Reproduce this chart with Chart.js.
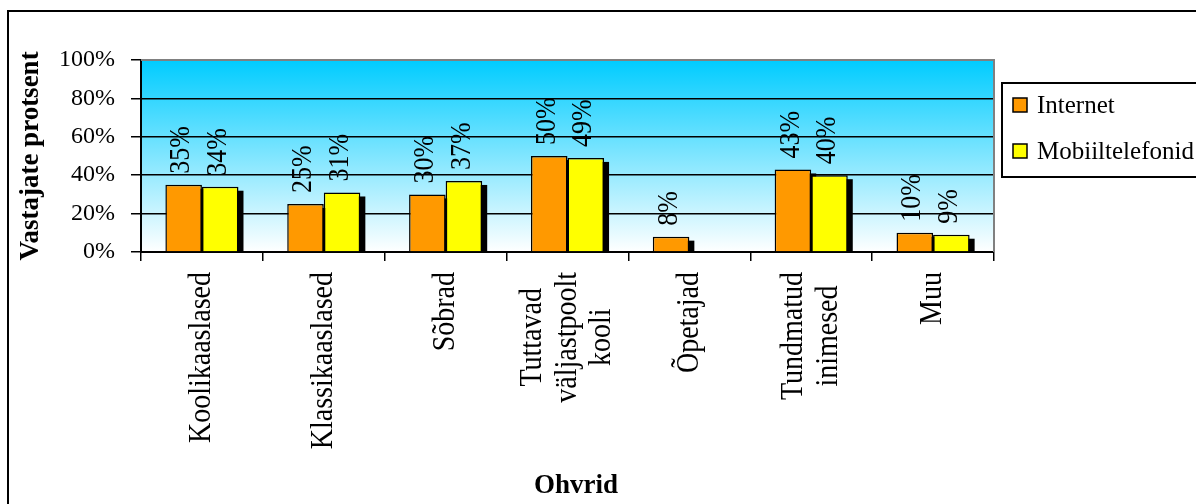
<!DOCTYPE html>
<html><head><meta charset="utf-8">
<script src="https://cdn.jsdelivr.net/npm/chart.js@4"></script>
<style>html,body{margin:0;padding:0;background:#fff;overflow:hidden}</style>
</head><body>
<canvas id="c" width="1196" height="504" style="display:block;width:1196px;height:504px"></canvas>
<script>
const categories = ['Koolikaaslased', 'Klassikaaslased', 'Sõbrad', ['Tuttavad', 'väljastpoolt', 'kooli'], 'Õpetajad', ['Tundmatud', 'inimesed'], 'Muu'];
const seriesNames = ['Internet', 'Mobiiltelefonid'];
const internetValues = [35, 25, 30, 50, 8, 43, 10];
const mobileValues = [34, 31, 37, 49, null, 40, 9];
const yTickValues = [0, 20, 40, 60, 80, 100];
const yTitle = 'Vastajate protsent';
const xTitle = 'Ohvrid';

const FONT = "'Liberation Serif', 'Times New Roman', serif";
const colors = ['#FF9900', '#FFFF00'];
const SX = 1.12;

const framePlugin = {
  id: 'frame',
  beforeDraw(chart) {
    const {ctx, chartArea: a} = chart;
    ctx.save();
    const g = ctx.createLinearGradient(0, a.top, 0, a.bottom);
    g.addColorStop(0, '#00CCFF');
    g.addColorStop(1, '#FFFFFF');
    ctx.fillStyle = g;
    ctx.fillRect(a.left, a.top, a.right - a.left, a.bottom - a.top);
    ctx.restore();
  },
  beforeDatasetsDraw(chart) {
    const {ctx, chartArea: a} = chart;
    ctx.save();
    ctx.beginPath();
    ctx.rect(a.left, a.top, a.right - a.left, a.bottom - a.top);
    ctx.clip();
    ctx.fillStyle = '#000';
    chart.data.datasets.forEach((ds, di) => {
      chart.getDatasetMeta(di).data.forEach((bar, i) => {
        if (ds.data[i] == null) return;
        const p = bar.getProps(['x', 'y', 'base', 'width'], true);
        ctx.fillRect(p.x - p.width / 2 + 5, p.y + 4, p.width, p.base - p.y);
      });
    });
    ctx.restore();
  },
  afterDatasetsDraw(chart) {
    const {ctx} = chart;
    ctx.save();
    ctx.fillStyle = '#000';
    ctx.font = '26px ' + FONT;
    ctx.textAlign = 'left';
    ctx.textBaseline = 'middle';
    chart.data.datasets.forEach((ds, di) => {
      chart.getDatasetMeta(di).data.forEach((bar, i) => {
        const v = ds.data[i];
        if (v == null) return;
        const p = bar.getProps(['x', 'y'], true);
        ctx.save();
        ctx.translate(p.x - 2, p.y - 11);
        ctx.scale(SX, 1);
        ctx.rotate(-Math.PI / 2);
        ctx.fillText(v + '%', 0, 0);
        ctx.restore();
      });
    });
    ctx.restore();
  },
  afterDraw(chart) {
    const {ctx, chartArea: a} = chart;
    const xs = chart.scales.x;
    ctx.save();
    // plot border (top, right)
    ctx.strokeStyle = '#808080';
    ctx.lineWidth = 2;
    ctx.beginPath();
    ctx.moveTo(a.left, a.top);
    ctx.lineTo(a.right, a.top);
    ctx.lineTo(a.right, a.bottom);
    ctx.stroke();
    // category labels
    ctx.fillStyle = '#000';
    ctx.font = '28px ' + FONT;
    ctx.textAlign = 'center';
    ctx.textBaseline = 'middle';
    const yTop = 272, lh = 31;
    categories.forEach((lab, i) => {
      const lines = Array.isArray(lab) ? lab : [lab];
      const W = Math.max(...lines.map(l => ctx.measureText(l).width));
      const xc = xs.getPixelForValue(i);
      ctx.save();
      ctx.translate(xc, yTop);
      ctx.scale(SX, 1);
      ctx.rotate(-Math.PI / 2);
      lines.forEach((l, j) => ctx.fillText(l, -W / 2, (j - (lines.length - 1) / 2) * lh));
      ctx.restore();
    });
    // x axis title
    ctx.font = 'bold 27px ' + FONT;
    ctx.fillText(xTitle, 576, 486);
    // outer frame
    ctx.strokeStyle = '#000';
    ctx.lineWidth = 2;
    ctx.strokeRect(8, 11, 1400, 700);
    // legend
    const lx = 1002, ly = 83;
    ctx.strokeRect(lx, ly, 400, 94);
    ctx.font = '25px ' + FONT;
    ctx.textAlign = 'left';
    seriesNames.forEach((n, k) => {
      const cy = 105 + k * 46;
      ctx.fillStyle = colors[k];
      ctx.fillRect(1013, cy - 7, 14, 14);
      ctx.lineWidth = 1.5;
      ctx.strokeStyle = '#000';
      ctx.strokeRect(1013, cy - 7, 14, 14);
      ctx.fillStyle = '#000';
      ctx.fillText(n, 1037, cy + 1);
    });
    ctx.restore();
  }
};

new Chart(document.getElementById('c'), {
  type: 'bar',
  data: {
    labels: categories.map(c => Array.isArray(c) ? c.join(' ') : c),
    datasets: [
      {label: seriesNames[0], data: internetValues, backgroundColor: colors[0], borderColor: '#000', borderWidth: 1.5},
      {label: seriesNames[1], data: mobileValues, backgroundColor: colors[1], borderColor: '#000', borderWidth: 1.5}
    ]
  },
  options: {
    responsive: false,
    animation: false,
    devicePixelRatio: 1,
    layout: {padding: {left: 0, right: 202, top: 60, bottom: 0}},
    datasets: {bar: {categoryPercentage: 0.6, barPercentage: 1.0}},
    plugins: {legend: {display: false}, tooltip: {enabled: false}},
    scales: {
      x: {
        offset: true,
        grid: {offset: true, drawOnChartArea: false, tickLength: 9, tickColor: '#000', lineWidth: 1.5},
        border: {color: '#000', width: 2},
        ticks: {display: false},
        title: {display: false, text: xTitle},
        afterFit: s => { s.height = 252; }
      },
      y: {
        min: 0, max: 100,
        afterBuildTicks: s => { s.ticks = yTickValues.map(v => ({value: v})); },
        ticks: {callback: v => v + '%', color: '#000', font: {family: FONT, size: 24}, padding: 16},
        grid: {color: c => (c.tick && c.tick.value === 100) ? '#808080' : '#000', tickColor: '#000', lineWidth: 1.5, tickLength: 10},
        border: {color: '#000', width: 2},
        title: {display: true, text: yTitle, color: '#000', font: {family: FONT, size: 27, weight: 'bold'}, padding: {top: 15, bottom: 0}},
        afterFit: s => { s.width = 141; }
      }
    }
  },
  plugins: [framePlugin]
});
</script>
</body></html>
